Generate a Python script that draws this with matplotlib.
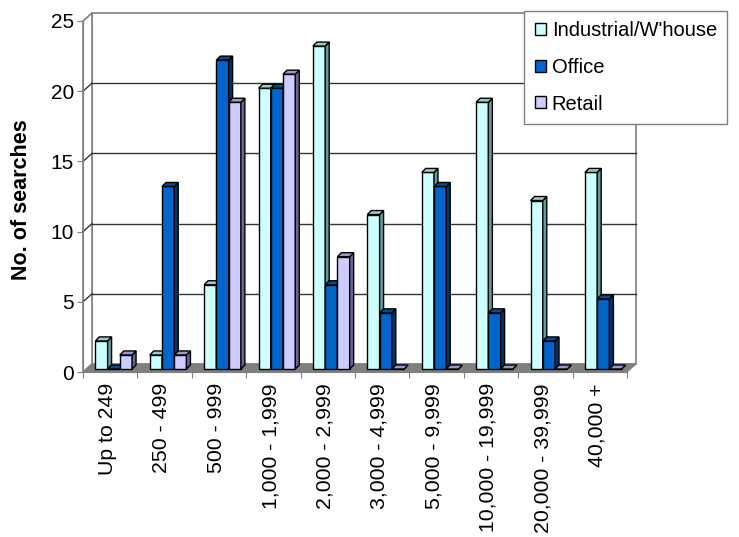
import matplotlib.pyplot as plt
from matplotlib.patches import Polygon, Patch

plt.rcParams['font.family'] = ['Liberation Sans', 'DejaVu Sans']

# Dados
categorias = ["Up to 249", "250 - 499", "500 - 999", "1,000 - 1,999", "2,000 - 2,999",
              "3,000 - 4,999", "5,000 - 9,999", "10,000 - 19,999", "20,000 - 39,999", "40,000 +"]
industrial = [2, 1, 6, 20, 23, 11, 14, 19, 12, 14]
office = [0, 13, 22, 20, 6, 4, 13, 4, 2, 5]
retail = [1, 1, 19, 21, 8, 0, 0, 0, 0, 0]

series = ["Industrial/W'house", "Office", "Retail"]
valores = [industrial, office, retail]
cor_frente = ["#CCFFFF", "#0066CC", "#CCCCFF"]
cor_topo = ["#99CCCC", "#004C99", "#9999CC"]
cor_lado = ["#669999", "#003366", "#666699"]

W, H = 739, 537
fig = plt.figure(figsize=(W / 100, H / 100), dpi=100)
ax_l, ax_r, ax_t, ax_b = 83, 627, 21, 372
ax = fig.add_axes([ax_l / W, 1 - ax_b / H, (ax_r - ax_l) / W, (ax_b - ax_t) / H])

n = len(categorias)
ymax = 25
ax.set_xlim(0, n)
ax.set_ylim(0, ymax)

# pixels -> unidades de dados
px_x = (ax_r - ax_l) / n
px_y = (ax_b - ax_t) / ymax
wx, wy = 9 / px_x, 8 / px_y     # profundidade da parede
bx, by = 4 / px_x, 4 / px_y     # profundidade das barras
sx, sy = 2 / px_x, 3 / px_y     # deslocamento das barras

# Parede do fundo, chão e parede lateral
ax.add_patch(Polygon([(0, 0), (n, 0), (n + wx, wy), (wx, wy)], closed=True,
                     facecolor="#808080", edgecolor="#808080", lw=0.8, clip_on=False, zorder=1))
ax.add_patch(Polygon([(wx, wy), (n + wx, wy), (n + wx, ymax + wy), (wx, ymax + wy)], closed=True,
                     facecolor="white", edgecolor="#808080", lw=1.2, clip_on=False, zorder=0.5))
ax.add_patch(Polygon([(0, 0), (wx, wy), (wx, ymax + wy), (0, ymax)], closed=True,
                     facecolor="white", edgecolor="#808080", lw=1.2, clip_on=False, zorder=0.6))
for g in range(5, ymax, 5):
    ax.plot([wx, n + wx], [g + wy, g + wy], color="#333333", lw=1, zorder=0.7, clip_on=False)
    ax.plot([0, wx], [g, g + wy], color="#333333", lw=1, zorder=0.7, clip_on=False)

# Barras com efeito 3D
largura = 0.225
inicio = 0.19
for i in range(n):
    for k in range(3):
        v = valores[k][i]
        x0 = i + inicio + k * largura + sx
        x1 = x0 + largura
        z = 2 + i * 3 + k
        ax.bar(x0, v, largura, bottom=sy, align="edge", color=cor_frente[k],
               edgecolor="black", lw=1, zorder=z)
        ax.add_patch(Polygon([(x1, sy), (x1 + bx, sy + by), (x1 + bx, sy + v + by), (x1, sy + v)],
                             closed=True, facecolor=cor_lado[k], edgecolor="black", lw=1, zorder=z))
        ax.add_patch(Polygon([(x0, sy + v), (x1, sy + v), (x1 + bx, sy + v + by), (x0 + bx, sy + v + by)],
                             closed=True, facecolor=cor_topo[k], edgecolor="black", lw=1, zorder=z))

# Eixos
for lado in ["top", "right"]:
    ax.spines[lado].set_visible(False)
ax.spines["left"].set_color("#808080")
ax.spines["bottom"].set_color("#808080")
ax.spines["left"].set_zorder(50)
ax.spines["bottom"].set_zorder(50)
ax.set_facecolor("none")

ax.set_yticks(range(0, ymax + 1, 5))
ax.tick_params(axis="y", direction="out", length=4.5, color="#808080", labelsize=15, pad=2)
ax.set_xticks(range(n + 1))
ax.set_xticklabels([])
ax.tick_params(axis="x", which="major", direction="out", length=4.5, color="#808080")
ax.set_xticks([i + 0.45 for i in range(n)], minor=True)
ax.set_xticklabels(categorias, minor=True, rotation=90, fontsize=15.3, va="top", ha="center")
ax.tick_params(axis="x", which="minor", length=0, pad=8)

fig.text(22 / W, 1 - 200 / H, "No. of searches", rotation=90, fontsize=15.5, fontweight="bold",
         ha="center", va="center")

# Legenda
handles = [Patch(facecolor=cor_frente[k], edgecolor="black", lw=1) for k in range(3)]
leg = fig.legend(handles, series, loc="upper right", bbox_to_anchor=(727 / W, 1 - 11 / H),
                 bbox_transform=fig.transFigure, borderaxespad=0, fontsize=14.5, fancybox=False,
                 handlelength=0.55, handleheight=0.55, handletextpad=0.3, labelspacing=0.88,
                 borderpad=0.5, framealpha=1)
leg.get_frame().set_edgecolor("#808080")
leg.get_frame().set_linewidth(1)

plt.savefig("out.png", dpi=100)
